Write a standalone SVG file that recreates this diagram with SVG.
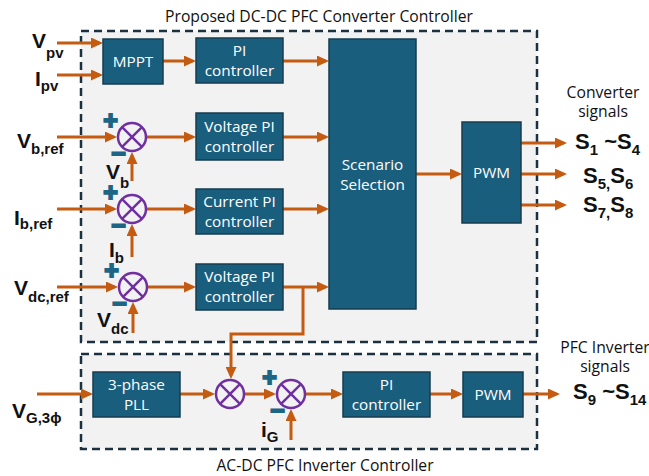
<svg xmlns="http://www.w3.org/2000/svg" width="649" height="476" viewBox="0 0 649 476">
<style>
  .frame{fill:#f2f2f2;stroke:#1b3140;stroke-width:2.5;stroke-dasharray:8 5}
  .blk{fill:#1a5e7e;stroke:#163c50;stroke-width:1.5}
  .bt{font-family:"Open Sans","Noto Sans",sans-serif;font-size:15.3px;fill:#ffffff;text-anchor:middle}
  .cap{font-family:"Open Sans","Noto Sans",sans-serif;font-size:15.7px;fill:#111111;text-anchor:middle}
  .lbl{font-family:"Liberation Sans",Arial,sans-serif;font-weight:bold;font-size:21px;fill:#111111}
  .sub{font-size:15px}
  .sig{font-family:"Liberation Sans",Arial,sans-serif;font-weight:bold;font-size:22px;fill:#111111}
  .sum circle{fill:none;stroke:#7030a0;stroke-width:2.5}
  .sum path{fill:none;stroke:#7030a0;stroke-width:2.5}
  .sign{font-family:"Liberation Sans",Arial,sans-serif;font-weight:bold;font-size:25px;fill:#1d6585;stroke:#1d6585;stroke-width:1.8;text-anchor:middle}
  .wire{fill:none;stroke:#c55a11;stroke-width:3}
  .arr{marker-end:url(#ah)}
</style>
<defs>
  <marker id="ah" markerUnits="userSpaceOnUse" markerWidth="12" markerHeight="11" refX="8.5" refY="5.5" orient="auto">
    <path d="M0,0 L12,5.5 L0,11 z" fill="#c55a11"/>
  </marker>
</defs>

<!-- frames -->
<g id="dcdc-frame">
  <rect class="frame" x="81" y="31" width="456" height="311"/>
  <text class="cap" x="319" y="22">Proposed DC-DC PFC Converter Controller</text>
</g>
<g id="acdc-frame">
  <rect class="frame" x="81" y="354" width="456" height="95"/>
  <text class="cap" x="325" y="471">AC-DC PFC Inverter Controller</text>
</g>

<!-- connectors -->
<g id="connectors">
  <path class="wire arr" d="M57,43 H99.5"/>
  <path class="wire arr" d="M57,75 H99.5"/>
  <path class="wire arr" d="M163,61 H192.5"/>
  <path class="wire arr" d="M283,61 H325.5"/>
  <path class="wire arr" d="M57,137 H113.5"/>
  <path class="wire arr" d="M147,137 H192.5"/>
  <path class="wire arr" d="M283,137 H325.5"/>
  <path class="wire arr" d="M132,181 V155.5"/>
  <path class="wire arr" d="M57,209 H113.5"/>
  <path class="wire arr" d="M147,209 H192.5"/>
  <path class="wire arr" d="M283,209 H325.5"/>
  <path class="wire arr" d="M132,257 V227.5"/>
  <path class="wire arr" d="M57,287 H114.5"/>
  <path class="wire arr" d="M148,287 H192.5"/>
  <path class="wire arr" d="M283,287 H325.5"/>
  <path class="wire arr" d="M133,333 V305.5"/>
  <path class="wire arr" d="M303,287 V334 H231 V375.5"/>
  <path class="wire arr" d="M416,174 H458.5"/>
  <path class="wire arr" d="M521,143 H563.5"/>
  <path class="wire arr" d="M521,174 H563.5"/>
  <path class="wire arr" d="M521,205 H563.5"/>
  <path class="wire arr" d="M37,394 H89.5"/>
  <path class="wire arr" d="M180,394 H211.5"/>
  <path class="wire arr" d="M245,394 H272.5"/>
  <path class="wire arr" d="M291,440 V412.5"/>
  <path class="wire arr" d="M306,394 H339.5"/>
  <path class="wire arr" d="M430,394 H459.5"/>
  <path class="wire arr" d="M523,394 H556.5"/>
</g>

<!-- blocks -->
<g id="mppt"><rect class="blk" x="103" y="39" width="60" height="45"/><text class="bt" x="133" y="67">MPPT</text></g>
<g id="pi-pv"><rect class="blk" x="196" y="38" width="87" height="45"/><text class="bt" x="239.5" y="56">PI</text><text class="bt" x="239.5" y="76">controller</text></g>
<g id="vpi-b"><rect class="blk" x="196" y="113" width="87" height="47"/><text class="bt" x="239.5" y="132">Voltage PI</text><text class="bt" x="239.5" y="152">controller</text></g>
<g id="cpi-b"><rect class="blk" x="196" y="189" width="87" height="45"/><text class="bt" x="239.5" y="207">Current PI</text><text class="bt" x="239.5" y="227">controller</text></g>
<g id="vpi-dc"><rect class="blk" x="196" y="264" width="87" height="46"/><text class="bt" x="239.5" y="282">Voltage PI</text><text class="bt" x="239.5" y="302">controller</text></g>
<g id="scenario"><rect class="blk" x="329" y="39" width="87" height="270"/><text class="bt" x="372.5" y="170">Scenario</text><text class="bt" x="372.5" y="190">Selection</text></g>
<g id="pwm-dc"><rect class="blk" x="462" y="122" width="59" height="101"/><text class="bt" x="491.5" y="178">PWM</text></g>
<g id="pll"><rect class="blk" x="93" y="372" width="87" height="45"/><text class="bt" x="136.5" y="390">3-phase</text><text class="bt" x="136.5" y="410">PLL</text></g>
<g id="pi-ac"><rect class="blk" x="343" y="372" width="87" height="45"/><text class="bt" x="386.5" y="390">PI</text><text class="bt" x="386.5" y="410">controller</text></g>
<g id="pwm-ac"><rect class="blk" x="463" y="372" width="60" height="45"/><text class="bt" x="493" y="400">PWM</text></g>

<!-- summing junctions -->
<g id="sum-vb" class="sum" transform="translate(132,137)"><circle r="14"/><path d="M-9.9,-9.9L9.9,9.9M9.9,-9.9L-9.9,9.9"/></g>
<g id="sum-ib" class="sum" transform="translate(132,209)"><circle r="14"/><path d="M-9.9,-9.9L9.9,9.9M9.9,-9.9L-9.9,9.9"/></g>
<g id="sum-vdc" class="sum" transform="translate(133,287)"><circle r="14"/><path d="M-9.9,-9.9L9.9,9.9M9.9,-9.9L-9.9,9.9"/></g>
<g id="mul-ac" class="sum" transform="translate(230,394)"><circle r="14"/><path d="M-9.9,-9.9L9.9,9.9M9.9,-9.9L-9.9,9.9"/></g>
<g id="sum-ig" class="sum" transform="translate(291,394)"><circle r="14"/><path d="M-9.9,-9.9L9.9,9.9M9.9,-9.9L-9.9,9.9"/></g>

<!-- signs -->
<g id="signs">
  <text class="sign" x="110.5" y="129">+</text>
  <text class="sign" x="118.5" y="162">−</text>
  <text class="sign" x="110.5" y="201">+</text>
  <text class="sign" x="118.5" y="234">−</text>
  <text class="sign" x="111.5" y="279">+</text>
  <text class="sign" x="119.5" y="312">−</text>
  <text class="sign" x="269.5" y="386">+</text>
  <text class="sign" x="277.5" y="419">−</text>
</g>

<!-- input/output labels -->
<g id="labels">
  <text class="lbl" x="32" y="48">V<tspan class="sub" dy="10">pv</tspan></text>
  <text class="lbl" x="35" y="86">I<tspan class="sub" dy="5">pv</tspan></text>
  <text class="lbl" x="17" y="148">V<tspan class="sub" dy="6">b,ref</tspan></text>
  <text class="lbl" x="106" y="179">V<tspan class="sub" dy="9">b</tspan></text>
  <text class="lbl" x="14" y="225">I<tspan class="sub" dy="4">b,ref</tspan></text>
  <text class="lbl" x="109" y="257">I<tspan class="sub" dy="6">b</tspan></text>
  <text class="lbl" x="14" y="295">V<tspan class="sub" dy="7">dc,ref</tspan></text>
  <text class="lbl" x="97" y="327">V<tspan class="sub" dy="7">dc</tspan></text>
  <text class="lbl" x="12" y="418">V<tspan class="sub" dy="5">G,3ϕ</tspan></text>
  <text class="lbl" x="261" y="437">i<tspan class="sub" dy="5">G</tspan></text>
</g>
<g id="outputs">
  <text class="cap" x="603" y="98">Converter</text>
  <text class="cap" x="603" y="117">signals</text>
  <text class="sig" x="575" y="149">S<tspan class="sub" dy="6">1</tspan><tspan dy="-6"> ~</tspan>S<tspan class="sub" dy="6">4</tspan></text>
  <text class="sig" x="583" y="183">S<tspan class="sub" dy="6">5,</tspan><tspan dy="-6">S</tspan><tspan class="sub" dy="6">6</tspan></text>
  <text class="sig" x="583" y="212">S<tspan class="sub" dy="6">7,</tspan><tspan dy="-6">S</tspan><tspan class="sub" dy="6">8</tspan></text>
  <text class="cap" x="605" y="353">PFC Inverter</text>
  <text class="cap" x="605" y="372">signals</text>
  <text class="sig" x="573" y="399">S<tspan class="sub" dy="6">9</tspan><tspan dy="-6"> ~</tspan>S<tspan class="sub" dy="6">14</tspan></text>
</g>
</svg>
